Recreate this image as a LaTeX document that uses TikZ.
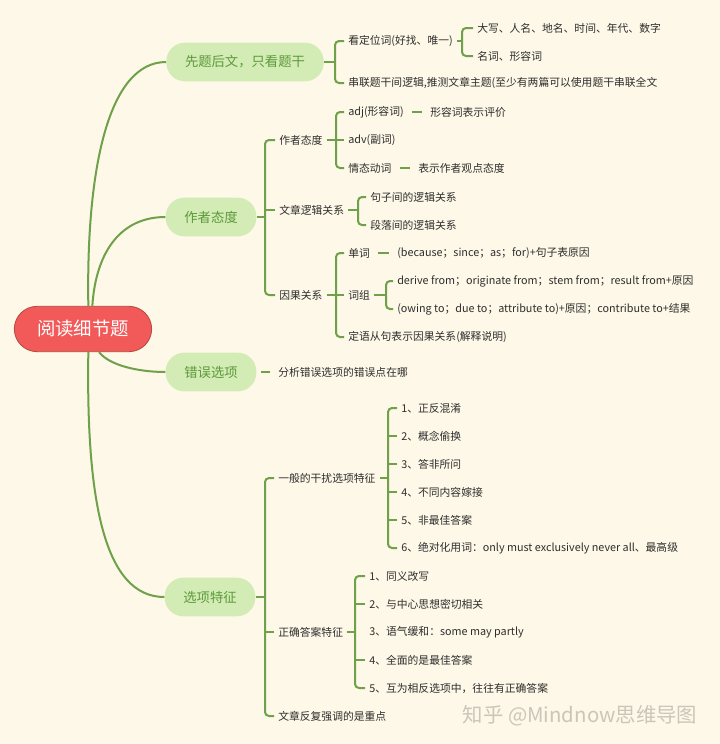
\documentclass[tikz,border=0pt]{standalone}
\usepackage{fontspec}
\setmainfont{Noto Sans CJK SC}
\definecolor{paper}{HTML}{FDF8E7}
\definecolor{lgreen}{HTML}{6FA04A}
\definecolor{tfill}{HTML}{D3EBB5}
\definecolor{tgreen}{HTML}{5C9A3A}
\definecolor{rootred}{HTML}{F25959}
\definecolor{rootedge}{HTML}{B4493F}
\definecolor{txt}{HTML}{2E2E2E}
\definecolor{wmgray}{HTML}{CBC6BA}
\tikzset{
  br/.style={draw=lgreen, line width=1.5pt, rounded corners=3pt},
  lnk/.style={draw=lgreen, line width=1.5pt, shorten <=3pt, shorten >=3pt},
  leaf/.style={anchor=west, inner sep=3pt, text=txt, font=\fontsize{8.1}{10}\selectfont},
  topic/.style={fill=tfill, text=tgreen, rounded corners=14pt, minimum height=29pt,
    inner xsep=14pt, font=\fontsize{10}{12}\selectfont}
}
\begin{document}
\begin{tikzpicture}[x=0.75pt, y=0.75pt]
\fill[paper] (0,0) rectangle (720,-744);
\useasboundingbox (0,0) rectangle (720,-744);

\node (root) at (83,-329) [fill=rootred, draw=rootedge, line width=0.6pt, rounded corners=17pt,
  minimum height=34pt, minimum width=103pt, text=white, font=\fontsize{13.8}{16}\selectfont] {阅读细节题};

\node (tg) at (245,-62) [topic] {先题后文，只看题干};
\node (zz) at (211,-217) [topic] {作者态度};
\node (cw) at (211,-372) [topic] {错误选项};
\node (xx) at (210,-597) [topic] {选项特征};

\draw[br] ([xshift=4pt]root.north) .. controls (86,-170) and (108,-62) .. (tg.west);
\draw[br] ([xshift=7pt]root.north) .. controls (96,-250) and (122,-217) .. (zz.west);
\draw[br] ([xshift=12pt]root.south) .. controls (110,-366) and (140,-372) .. (cw.west);
\draw[br] ([xshift=4pt]root.south) .. controls (86,-500) and (104,-597) .. (xx.west);

% 先题后文
\coordinate (tgb) at (335,-62);
\node (tg1) at (344,-41) [leaf] {看定位词(好找、唯一)};
\node (tg2) at (344,-83) [leaf] {串联题干间逻辑,推测文章主题(至少有两篇可以使用题干串联全文};
\draw[br] (tg.east) -- (tgb);
\draw[br] (tg1.west) -| (tgb) |- (tg2.west);
\coordinate (tg1b) at (462,-41);
\node (tg1a) at (473,-28) [leaf] {大写、人名、地名、时间、年代、数字};
\node (tg1c) at (473,-56) [leaf] {名词、形容词};
\draw[br] (tg1.east) -- (tg1b);
\draw[br] (tg1a.west) -| (tg1b) |- (tg1c.west);

% 作者态度
\coordinate (zzb) at (265,-217);
\node (zz1) at (275,-140) [leaf] {作者态度};
\node (zz2) at (275,-210) [leaf] {文章逻辑关系};
\node (zz3) at (275,-295) [leaf] {因果关系};
\draw[br] (zz.east) -- (zzb);
\draw[br] (zz1.west) -| (zzb) |- (zz3.west);
\draw[br] (zz2.west) -- (zz2.west -| zzb);

\coordinate (zz1b) at (336,-140);
\node (zz1a) at (344,-112) [leaf] {adj(形容词)};
\node (zz1b2) at (344,-140) [leaf] {adv(副词)};
\node (zz1c) at (344,-168) [leaf] {情态动词};
\draw[br] (zz1.east) -- (zz1b);
\draw[br] (zz1a.west) -| (zz1b) |- (zz1c.west);
\draw[br] (zz1b2.west) -- (zz1b);
\node (zz1a1) at (426,-112) [leaf] {形容词表示评价};
\node (zz1c1) at (414,-168) [leaf] {表示作者观点态度};
\draw[lnk] (zz1a.east) -- (zz1a1.west);
\draw[lnk] (zz1c.east) -- (zz1c1.west);

\coordinate (zz2b) at (358,-210);
\node (zz2a) at (366,-197) [leaf] {句子间的逻辑关系};
\node (zz2c) at (366,-225) [leaf] {段落间的逻辑关系};
\draw[br] (zz2.east) -- (zz2b);
\draw[br] (zz2a.west) -| (zz2b) |- (zz2c.west);

\coordinate (zz3b) at (336,-295);
\node (zz3a) at (344,-253) [leaf] {单词};
\node (zz3m) at (344,-295) [leaf] {词组};
\node (zz3c) at (344,-337) [leaf] {定语从句表示因果关系(解释说明)};
\draw[br] (zz3.east) -- (zz3b);
\draw[br] (zz3a.west) -| (zz3b) |- (zz3c.west);
\draw[br] (zz3m.west) -- (zz3b);
\node (zz3a1) at (393,-253) [leaf] {(because；since；as；for)+句子表原因};
\draw[lnk] (zz3a.east) -- (zz3a1.west);
\coordinate (zz3mb) at (386,-295);
\node (zz3m1) at (393,-281) [leaf] {derive from；originate from；stem from；result from+原因};
\node (zz3m2) at (393,-309) [leaf] {(owing to；due to；attribute to)+原因；contribute to+结果};
\draw[br] (zz3m.east) -- (zz3mb);
\draw[br] (zz3m1.west) -| (zz3mb) |- (zz3m2.west);

% 错误选项
\node (cw1) at (274,-372) [leaf] {分析错误选项的错误点在哪};
\draw[lnk] (cw.east) -- (cw1.west);

% 选项特征
\coordinate (xxb) at (265,-597);
\node (xx1) at (274,-478) [leaf] {一般的干扰选项特征};
\node (xx2) at (274,-632) [leaf] {正确答案特征};
\node (xx3) at (274,-716) [leaf] {文章反复强调的是重点};
\draw[br] (xx.east) -- (xxb);
\draw[br] (xx1.west) -| (xxb) |- (xx3.west);
\draw[br] (xx2.west) -- (xx2.west -| xxb);

\coordinate (xx1b) at (388,-478);
\node (g1) at (397,-408) [leaf] {1、正反混淆};
\node (g2) at (397,-436) [leaf] {2、概念偷换};
\node (g3) at (397,-464) [leaf] {3、答非所问};
\node (g4) at (397,-492) [leaf] {4、不同内容嫁接};
\node (g5) at (397,-520) [leaf] {5、非最佳答案};
\node (g6) at (397,-548) [leaf] {6、绝对化用词：only must exclusively never all、最高级};
\draw[br] (xx1.east) -- (xx1b);
\draw[br] (g1.west) -| (xx1b) |- (g6.west);
\foreach \g in {g2,g3,g4,g5}
  \draw[br] (\g.west) -- (\g.west -| xx1b);

\coordinate (xx2b) at (355,-632);
\node (r1) at (365,-576) [leaf] {1、同义改写};
\node (r2) at (365,-604) [leaf] {2、与中心思想密切相关};
\node (r3) at (365,-632) [leaf] {3、语气缓和：some may partly};
\node (r4) at (365,-660) [leaf] {4、全面的是最佳答案};
\node (r5) at (365,-688) [leaf] {5、互为相反选项中，往往有正确答案};
\draw[br] (xx2.east) -- (xx2b);
\draw[br] (r1.west) -| (xx2b) |- (r5.west);
\foreach \r in {r2,r4}
  \draw[br] (\r.west) -- (\r.west -| xx2b);

\node (wm) at (580,-716) [text=wmgray, font=\fontsize{15.3}{18}\selectfont] {知乎 @Mindnow思维导图};
\end{tikzpicture}
\end{document}
